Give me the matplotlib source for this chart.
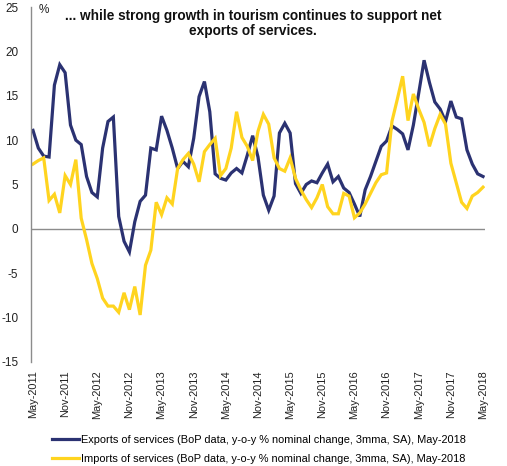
import matplotlib
matplotlib.use("Agg")
import matplotlib.pyplot as plt

plt.rcParams['font.family'] = ['Liberation Sans', 'DejaVu Sans']

tick_labels = ["May-2011", "Nov-2011", "May-2012", "Nov-2012", "May-2013", "Nov-2013",
               "May-2014", "Nov-2014", "May-2015", "Nov-2015", "May-2016", "Nov-2016",
               "May-2017", "Nov-2017", "May-2018"]

exports = [11.1, 9.1, 8.2, 8.1, 16.2, 18.5, 17.6, 11.7, 10.0, 9.5,
           5.9, 4.1, 3.6, 9.1, 12.1, 12.6, 1.4, -1.4, -2.6, 0.8,
           3.1, 3.8, 9.1, 8.9, 12.7, 11.1, 9.1, 6.8, 7.6, 7.0,
           10.2, 14.9, 16.6, 13.2, 6.2, 5.7, 5.5, 6.3, 6.8, 6.3,
           8.3, 10.5, 8.1, 3.8, 2.1, 3.7, 10.8, 11.9, 10.8, 5.1,
           4.0, 5.0, 5.4, 5.2, 6.3, 7.3, 5.3, 5.9, 4.6, 4.1,
           2.8, 1.4, 4.4, 5.9, 7.6, 9.3, 9.9, 11.6, 11.2, 10.7,
           8.9, 11.7, 15.3, 19.0, 16.5, 14.3, 13.5, 12.1, 14.4, 12.6,
           12.4, 8.9, 7.3, 6.2, 5.9]

imports = [7.3, 7.7, 8.0, 3.2, 3.9, 1.8, 6.0, 5.0, 7.8, 1.2,
           -1.2, -3.9, -5.6, -7.8, -8.7, -8.7, -9.4, -7.2, -9.1, -6.5,
           -9.7, -4.1, -2.4, 3.0, 1.6, 3.5, 2.8, 6.8, 7.8, 8.5,
           7.3, 5.3, 8.7, 9.5, 10.2, 6.0, 6.8, 9.1, 13.2, 10.3,
           9.3, 7.7, 11.0, 12.9, 11.8, 8.0, 6.8, 6.5, 8.0, 5.7,
           4.4, 3.3, 2.4, 3.5, 5.0, 2.5, 1.7, 1.7, 4.0, 3.7,
           1.25, 1.8, 2.8, 4.0, 5.2, 6.1, 6.3, 12.1, 14.6, 17.2,
           12.2, 15.2, 13.5, 12.0, 9.3, 11.3, 12.9, 11.8, 7.4, 5.2,
           3.0, 2.3, 3.7, 4.1, 4.7]

export_label = "Exports of services (BoP data, y-o-y % nominal change, 3mma, SA), May-2018"
import_label = "Imports of services (BoP data, y-o-y % nominal change, 3mma, SA), May-2018"
title = "... while strong growth in tourism continues to support net\nexports of services."

navy = "#2B3272"
yellow = "#FFD41F"
gray = "#8C8C8C"

W, H = 507, 466
fig = plt.figure(figsize=(W / 100, H / 100), dpi=100)
ax = fig.add_axes([31 / W, 1 - 362 / H, (485 - 31) / W, (362 - 7) / H])

x = list(range(len(exports)))
l1, = ax.plot(x, exports, color=navy, lw=2.3, solid_joinstyle='miter')
l2, = ax.plot(x, imports, color=yellow, lw=2.3, solid_joinstyle='miter')

ax.axhline(0, color=gray, lw=1, zorder=0)
ax.set_xlim(-0.37, 84.37)
ax.set_ylim(-15, 25)
ax.set_yticks(range(-15, 26, 5))
ax.set_yticklabels([str(v) for v in range(-15, 26, 5)], fontsize=8.5)
ax.set_xticks(range(0, 85, 6))
ax.set_xticklabels(tick_labels, rotation=90, fontsize=7.9)
ax.tick_params(axis='both', length=0, colors='#222222')
ax.tick_params(axis='y', pad=9)
ax.tick_params(axis='x', pad=6)
for s in ['top', 'right', 'bottom']:
    ax.spines[s].set_visible(False)
ax.spines['left'].set_color(gray)
ax.spines['left'].set_linewidth(1)

fig.text(44 / W, 1 - 10 / H, "%", fontsize=8.5, ha='center', va='center', color='#222222')
fig.text(253 / W, 1 - 9 / H, title, fontsize=9.8, fontweight='bold', ha='center', va='top',
         linespacing=1.05, color='#111111')

fig.legend([l1, l2], [export_label, import_label], loc='upper left',
           bbox_to_anchor=(52 / W, 1 - 435 / H), frameon=False, fontsize=7.9,
           handlelength=2.5, handletextpad=0.15, labelspacing=0.8, borderpad=0,
           borderaxespad=0)

fig.savefig("out.png", dpi=100)
